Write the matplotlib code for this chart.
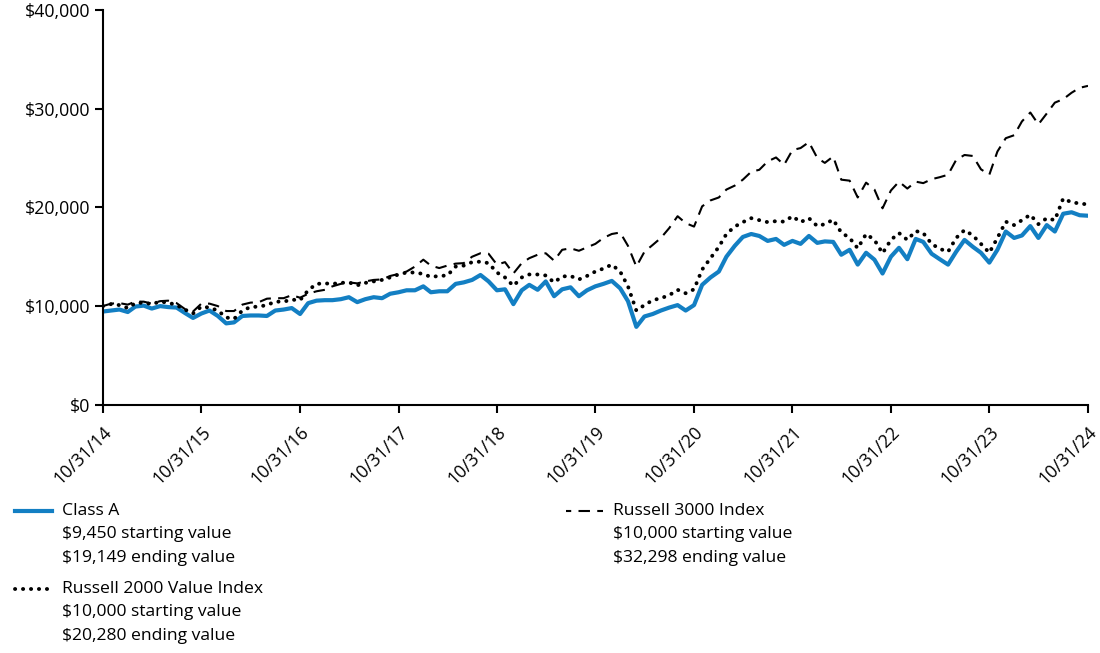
import pandas as pd
import matplotlib.pyplot as plt
import matplotlib.dates as mdates
from matplotlib.ticker import FuncFormatter
from matplotlib.lines import Line2D

plt.rcParams['font.family'] = ['Open Sans', 'DejaVu Sans']

dates = pd.date_range("2014-10-31", "2024-10-31", freq="ME")

# growth of $10,000, monthly values (in $)
class_a = [
    9450, 9550, 9650, 9400, 9950, 10050, 9750, 10000, 9900, 9850, 9300, 8800,
    9250, 9550, 9000, 8250, 8350, 9000, 9050, 9050, 9000, 9550, 9650, 9800,
    9200, 10300, 10550, 10600, 10600, 10700, 10900, 10400, 10700, 10900, 10800, 11250,
    11400, 11600, 11600, 12000, 11400, 11500, 11500, 12250, 12400, 12650, 13150, 12500,
    11600, 11700, 10200, 11600, 12150, 11650, 12500, 11000, 11700, 11900, 11000, 11600,
    12000, 12250, 12550, 11800, 10500, 7900, 8950, 9200, 9550, 9850, 10100, 9550,
    10100, 12150, 12900, 13500, 15000, 16100, 17000, 17300, 17100, 16600, 16800, 16200,
    16600, 16300, 17100, 16400, 16550, 16500, 15200, 15700, 14200, 15400, 14700, 13300,
    15000, 15900, 14750, 16800, 16500, 15300, 14750, 14200, 15500, 16700, 16000, 15400,
    14400, 15700, 17550, 16900, 17150, 18100, 16900, 18200, 17550, 19350, 19500, 19200,
    19149,
]

russell_2000_value = [
    10000, 10200, 10100, 9800, 10300, 10350, 10200, 10450, 10350, 10100, 9650, 9250,
    9950, 9850, 9550, 8850, 8700, 9550, 9900, 9950, 10100, 10450, 10450, 10650,
    10600, 11600, 12250, 12300, 12250, 12350, 12400, 12100, 12350, 12500, 12650, 12900,
    13200, 13400, 13400, 13250, 12950, 13050, 13100, 14000, 14100, 14450, 14500, 14350,
    13400, 12900, 12050, 12900, 13200, 13200, 13100, 12400, 13000, 13050, 12700, 13050,
    13500, 13800, 14200, 13500, 12000, 9550, 10100, 10600, 10800, 11100, 11650, 11300,
    11700, 13700, 14850, 16000, 17300, 18050, 18500, 18900, 18700, 18500, 18600, 18550,
    19100, 18500, 18900, 18100, 18300, 18750, 17450, 16900, 15850, 17300, 16700, 15350,
    16700, 17400, 16700, 17600, 17400, 16300, 15800, 15500, 16900, 17700, 17150, 16300,
    15400, 16900, 18550, 18200, 18700, 19250, 18300, 18900, 18700, 20900, 20500, 20400,
    20280,
]

russell_3000 = [
    10000, 10250, 10300, 10150, 10450, 10450, 10250, 10500, 10550, 10300, 9700, 9450,
    10250, 10250, 10000, 9500, 9500, 10150, 10350, 10400, 10750, 10800, 10800, 11100,
    10850, 11250, 11500, 11650, 12000, 12250, 12400, 12300, 12500, 12650, 12700, 13050,
    13250, 13500, 14000, 14700, 14100, 13850, 14100, 14300, 14350, 15000, 15350, 15300,
    14200, 14450, 13300, 14350, 14850, 15200, 15350, 14600, 15700, 15850, 15600, 15950,
    16300, 16900, 17300, 17450, 16100, 14000, 15500, 16200, 16900, 17900, 19100, 18400,
    18050, 20100, 20700, 21000, 21800, 22200, 22800, 23600, 23800, 24650, 25050, 24300,
    25800, 26000, 26600, 25000, 24500, 25150, 22800, 22700, 21000, 22500, 21800, 19900,
    21700, 22600, 21900, 22600, 22450, 22850, 23050, 23300, 24800, 25300, 25200, 23850,
    23300, 25650, 27000, 27300, 28700, 29600, 28400, 29500, 30600, 30950, 31600, 32100,
    32298,
]

blue = "#137fc3"

fig = plt.figure(figsize=(11, 6.53), dpi=100)
ax = fig.add_axes([0.0936, 0.380, 0.8955, 0.605])

ax.plot(dates, class_a, color=blue, lw=3.0, zorder=2)
ax.plot(dates, russell_2000_value, color="black", lw=2.8,
        linestyle=(0, (0.05, 2.0)), dash_capstyle="round", zorder=3)
ax.plot(dates, russell_3000, color="black", lw=1.5,
        linestyle=(0, (5.5, 3.5)), zorder=3)

ax.set_xlim(dates[0], dates[-1])
ax.set_ylim(0, 40000)
ax.set_yticks([0, 10000, 20000, 30000, 40000])
ax.yaxis.set_major_formatter(FuncFormatter(lambda v, p: "${:,.0f}".format(v)))

year_ticks = [d for d in dates if d.month == 10]
ax.set_xticks(year_ticks)
ax.xaxis.set_major_formatter(mdates.DateFormatter("%m/%d/%y"))
plt.setp(ax.get_xticklabels(), rotation=45, ha="right", va="top",
         rotation_mode="anchor")

for s in ["top", "right"]:
    ax.spines[s].set_visible(False)
for s in ["left", "bottom"]:
    ax.spines[s].set_linewidth(1.5)
ax.tick_params(axis="both", direction="out", length=6, width=1.5,
               labelsize=12.8, colors="black", pad=3)
ax.tick_params(axis="x", pad=7)

# legend drawn as separate blocks
def legend_block(x0, y0, style, lines):
    fig.add_artist(Line2D([x0 / 1100, (x0 + 37) / 1100],
                          [1 - y0 / 653, 1 - y0 / 653], transform=fig.transFigure,
                          **style))
    for i, t in enumerate(lines):
        fig.text((x0 + 47) / 1100, 1 - (y0 + i * 23.5) / 653, t,
                 fontsize=12.6, va="center", ha="left")

legend_block(15, 511, dict(color=blue, lw=3.0),
             ["Class A", "$9,450 starting value", "$19,149 ending value"])
legend_block(15, 589, dict(color="black", lw=2.8, linestyle=(0, (0.05, 2.0)),
                           dash_capstyle="round"),
             ["Russell 2000 Value Index", "$10,000 starting value",
              "$20,280 ending value"])
legend_block(566, 511, dict(color="black", lw=1.5, linestyle=(3, (5.5, 3.5))),
             ["Russell 3000 Index", "$10,000 starting value",
              "$32,298 ending value"])

fig.savefig("out.png", dpi=100)
